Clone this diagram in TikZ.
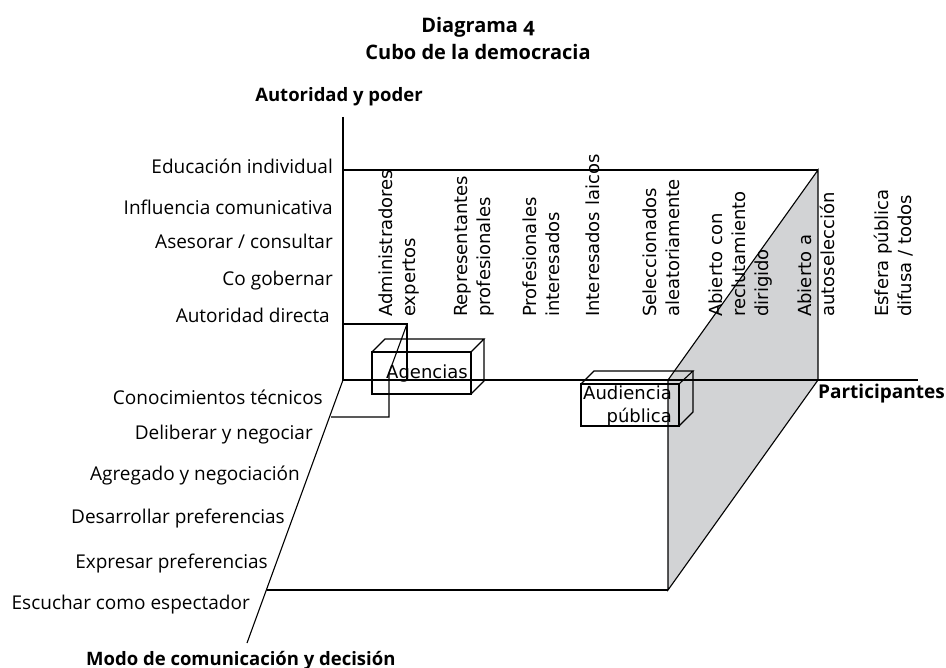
\documentclass[tikz,border=0pt]{standalone}
\usepackage{fontspec}
\setmainfont{Open Sans}
\newfontfamily\dvs{DejaVu Sans}
\newfontfamily\titlefont[Numbers=OldStyle]{Open Sans}
\definecolor{shade}{RGB}{210,211,213}
\begin{document}
\begin{tikzpicture}[x=1pt,y=-1pt,
  ln/.style={line width=1.1pt, black, line join=miter},
  lbl/.style={font=\fontsize{19}{23}\selectfont, inner sep=0, anchor=base east},
  axlbl/.style={font=\bfseries\fontsize{18.5}{22}\selectfont, inner sep=0},
  ttl/.style={font=\titlefont\bfseries\fontsize{20}{24}\selectfont, inner sep=0, anchor=base},
  col/.style={font=\dvs\fontsize{18}{23}\selectfont, rotate=90, anchor=west, align=left, inner sep=0},
  boxlbl/.style={font=\dvs\fontsize{18}{23}\selectfont, inner sep=0}]
\useasboundingbox (0,0) rectangle (946,668);
% key points
\coordinate (O) at (343,380);
\coordinate (Vtop) at (343,117);
\coordinate (TL) at (343,170);
\coordinate (TR) at (818,170);
\coordinate (BR) at (818,380);
\coordinate (Hend) at (918,380);
\coordinate (Dend) at (247,643);
\coordinate (FL) at (267,590);
\coordinate (FR) at (668,590);
\coordinate (FT) at (668,380);
% shaded side face
\filldraw[ln, fill=shade] (FT) -- (TR) -- (BR) -- (FR) -- cycle;
% axes and frame
\draw[ln] (Vtop) -- (O) -- (Hend);
\draw[ln] (O) -- (Dend);
\draw[ln] (TL) -- (TR);
\draw[ln] (FL) -- (FR);
% small box near origin
\coordinate (A1) at (343,324);
\coordinate (A2) at (407,324);
\coordinate (A3) at (407,380);
\coordinate (A4) at (389,373);
\coordinate (A5) at (389,417);
\coordinate (A6) at (331,417);
\draw[ln] (A1) -- (A2) -- (A3);
\draw[ln] (A2) -- (A4) -- (A5) -- (A6);
% Agencias box
\coordinate (G1) at (372,352);
\coordinate (G2) at (471,352);
\coordinate (G3) at (471,394);
\coordinate (G4) at (372,394);
\coordinate (G5) at (385,339);
\coordinate (G6) at (484,339);
\coordinate (G7) at (484,381);
\draw[ln] (G1) -- (G2) -- (G3) -- (G4) -- cycle;
\draw[ln] (G1) -- (G5) -- (G6) -- (G2);
\draw[ln] (G6) -- (G7) -- (G3);
\node[boxlbl, anchor=base] (agencias) at (427,379) {Agencias};
% Audiencia box
\coordinate (P1) at (581,384);
\coordinate (P2) at (679,384);
\coordinate (P3) at (679,426);
\coordinate (P4) at (581,426);
\coordinate (P5) at (594,371);
\coordinate (P6) at (693,371);
\coordinate (P7) at (693,412);
\draw[ln] (P1) -- (P2) -- (P3) -- (P4) -- cycle;
\draw[ln] (P1) -- (P5) -- (P6) -- (P2);
\draw[ln] (P6) -- (P7) -- (P3);
\node[boxlbl, align=right, anchor=east] (audiencia) at (672,406) {Audiencia\\pública};
% title
\node[ttl] (t1) at (478,33) {Diagrama 4};
\node[ttl] (t2) at (478,60) {Cubo de la democracia};
% axis titles
\node[axlbl, anchor=base] (ay) at (339,102) {Autoridad y poder};
\node[axlbl, anchor=base west, font=\bfseries\fontsize{19}{22}\selectfont] (ax) at (818,399) {Participantes};
\node[axlbl, anchor=base west] (az) at (86,665) {Modo de comunicación y decisión};
% vertical axis labels
\node[lbl] (v1) at (333,174) {Educación individual};
\node[lbl] (v2) at (333,215) {Influencia comunicativa};
\node[lbl] (v3) at (333,249) {Asesorar / consultar};
\node[lbl] (v4) at (333,286) {Co gobernar};
\node[lbl] (v5) at (330,323) {Autoridad directa};
% depth axis labels
\node[lbl] (d1) at (323,405) {Conocimientos técnicos};
\node[lbl] (d2) at (313,440) {Deliberar y negociar};
\node[lbl] (d3) at (300,480) {Agregado y negociación};
\node[lbl] (d4) at (285,523) {Desarrollar preferencias};
\node[lbl] (d5) at (268,568) {Expresar preferencias};
\node[lbl] (d6) at (250,609) {Escuchar como espectador};
% participant columns
\node[col] (c1) at (399,317) {Administradores\\expertos};
\node[col] (c2) at (474,317) {Representantes\\profesionales};
\node[col] (c3) at (541,317) {Profesionales\\interesados};
\node[col] (c4) at (593,317) {Interesados laicos};
\node[col] (c5) at (661,317) {Seleccionados\\aleatoriamente};
\node[col] (c6) at (741,317) {Abierto con\\reclutamiento\\dirigido};
\node[col] (c7) at (816,317) {Abierto a\\autoselección};
\node[col] (c8) at (894,317) {Esfera pública\\difusa / todos};
\end{tikzpicture}
\end{document}
